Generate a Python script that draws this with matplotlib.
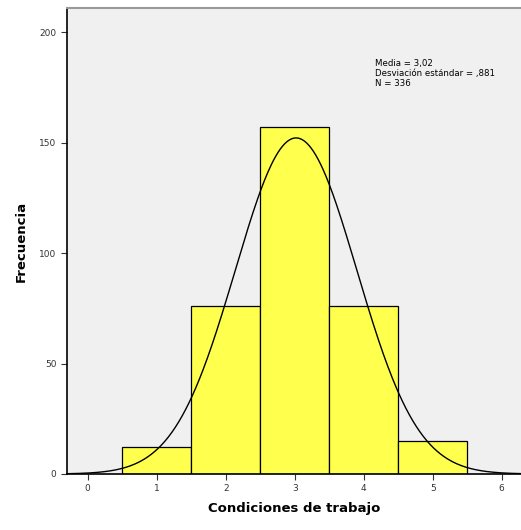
import numpy as np
import matplotlib.pyplot as plt

# Histogram of working conditions scores (SPSS style)
categorias = [1, 2, 3, 4, 5]
frecuencias = [12, 76, 157, 76, 15]
media = 3.02
desv = 0.881
n = 336
ticks_x = [0, 1, 2, 3, 4, 5, 6]
ticks_y = [0, 50, 100, 150, 200]

fig = plt.figure(figsize=(5.21, 5.30), dpi=100)
ax = fig.add_axes([0.1286, 0.1057, 0.8714, 0.8793])
ax.set_facecolor('#f0f0f0')

ax.bar(categorias, frecuencias, width=1.0, color='#ffff4d',
       edgecolor='black', linewidth=0.9)

# Normal curve scaled to counts (bin width 1)
xs = np.linspace(-0.3, 6.3, 400)
ys = n / (desv * np.sqrt(2 * np.pi)) * np.exp(-0.5 * ((xs - media) / desv) ** 2)
ax.plot(xs, ys, color='black', linewidth=1.0)

ax.set_xlim(-0.3, 6.28)
ax.set_ylim(0, 211)
ax.set_xticks(ticks_x)
ax.set_yticks(ticks_y)
ax.tick_params(labelsize=6.5, colors='#333333', length=4, width=0.8)

for side in ['left', 'bottom']:
    ax.spines[side].set_linewidth(1.2)
ax.spines['top'].set_color('#999999')
ax.spines['top'].set_linewidth(1.5)
ax.spines['right'].set_visible(False)

ax.set_xlabel('Condiciones de trabajo', fontsize=9.5, fontweight='bold', labelpad=6)
ax.set_ylabel('Frecuencia', fontsize=9.5, fontweight='bold', labelpad=8)

ax.text(0.678, 0.89,
        'Media = 3,02\nDesviación estándar = ,881\nN = 336',
        transform=ax.transAxes, fontsize=6.2, va='top', ha='left',
        linespacing=1.1)

fig.savefig('out.png', dpi=100)
